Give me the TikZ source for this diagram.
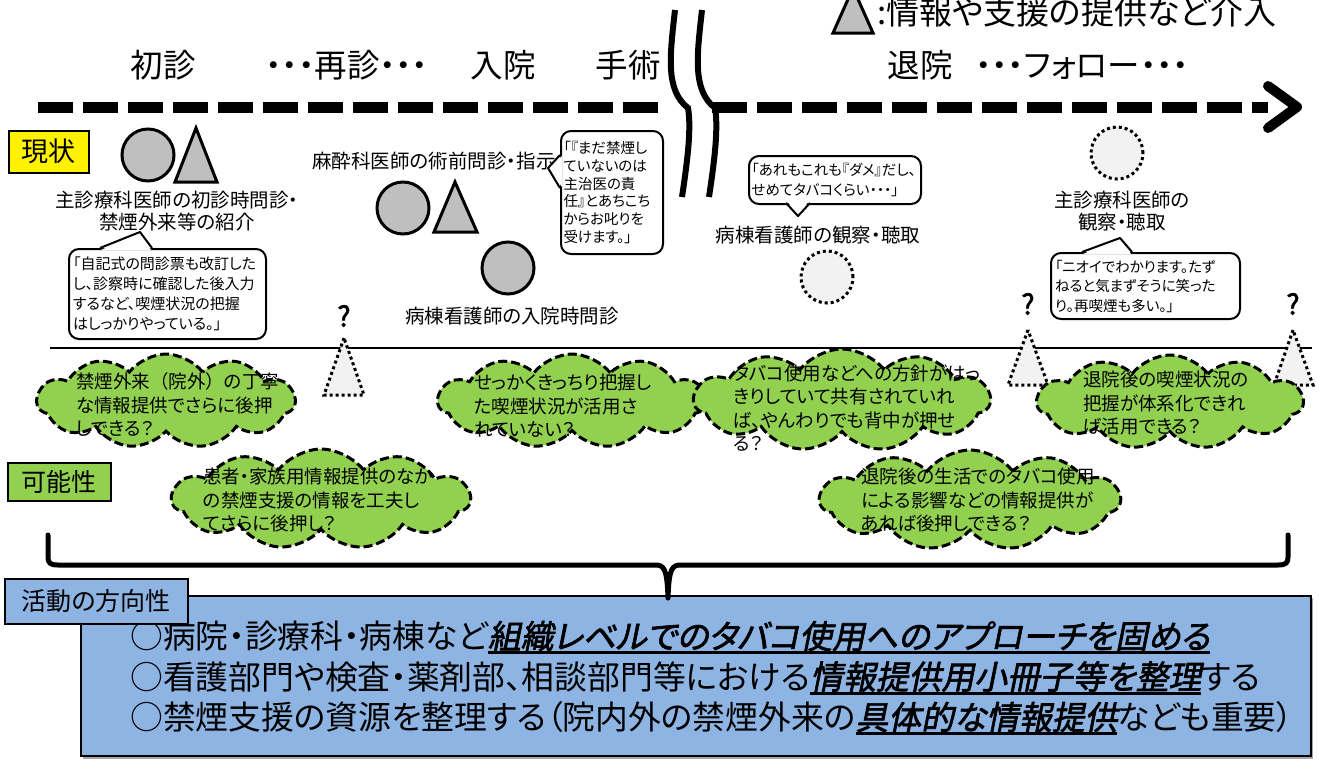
\documentclass[tikz,border=0pt]{standalone}
\usepackage{fontspec}
\setmainfont{Noto Sans CJK JP}[RawFeature={+palt}]
\newfontfamily\jpfull{Noto Sans CJK JP}
\newfontfamily\jpbold{Noto Sans CJK JP}[FakeBold=2]
\newfontfamily\jpem{Noto Sans CJK JP}[RawFeature={+palt}, FakeSlant=0.2, FakeBold=2]
\usetikzlibrary{shapes.symbols, calc}
\definecolor{shapegrey}{HTML}{BFBFBF}
\definecolor{lightg}{HTML}{F2F2F2}
\definecolor{cloudgreen}{HTML}{92D050}
\definecolor{boxblue}{HTML}{8DB4E2}
\newcommand\emul[1]{\setbox0=\hbox{\jpem #1}\rlap{\rule[-5.5pt]{\wd0}{2.6pt}}\box0}
\tikzset{
  tl/.style={font=\fontsize{32.5}{38}\selectfont, inner sep=0pt, anchor=base},
  lbl/.style={font=\fontsize{19.5}{22.5}\selectfont, align=center, inner sep=0pt},
  gcirc/.style={circle, draw, line width=3pt, fill=shapegrey, minimum size=52pt, inner sep=0pt},
  dcirc/.style={circle, draw, line width=3pt, dash pattern=on 3pt off 3pt, fill=lightg, minimum size=52pt, inner sep=0pt},
  gtri/.style={draw, line width=3pt, fill=shapegrey, line join=miter},
  dtri/.style={draw, line width=3pt, dash pattern=on 3pt off 3pt, fill=lightg},
  callbox/.style={draw, line width=2pt, fill=white, rounded corners=10pt, inner xsep=4pt, inner ysep=0pt, font=\fontsize{14.5}{19.5}\selectfont, align=left, anchor=north west},
  pointerfill/.style={fill=white},
  pointerline/.style={draw, line width=2pt, line join=round},
  cloudsh/.style={cloud, cloud puffs=11, cloud puff arc=105, cloud ignores aspect, draw, line width=3pt, dash pattern=on 9pt off 4pt, fill=cloudgreen, inner sep=0pt},
  cltext/.style={font=\fontsize{18.5}{23.5}\selectfont, align=left, anchor=west, inner sep=0pt},
  tag/.style={draw, line width=1.5pt, inner sep=0pt, font=\fontsize{25}{30}\selectfont, anchor=north west},
  qm/.style={font=\jpbold\fontsize{28}{30}\selectfont, inner sep=0pt},
  timeline/.style={line width=11pt, dash pattern=on 35pt off 10pt},
  breakline/.style={line width=6pt},
  bracestyle/.style={line width=5pt, line cap=round, line join=round}
}
\begin{document}
\begin{tikzpicture}[x=1pt, y=-1pt]
\useasboundingbox (0,0) rectangle (1319,758);
\clip (0,0) rectangle (1319,758);

% legend
\draw[gtri] (833,33) -- (873,33) -- (853,-12) -- cycle;
\node[font=\fontsize{33}{38}\selectfont, inner sep=0pt, anchor=base west] (legend) at (877,24) {:情報や支援の提供など介入};

% timeline labels
\node[tl] (p1) at (163,77) {初診};
\node[tl] (p2) at (347,77) {・・・再診・・・};
\node[tl] (p3) at (503,77) {入院};
\node[tl] (p4) at (628,77) {手術};
\node[tl] (p5) at (920,77) {退院};
\node[tl] (p6) at (1082,77) {・・・フォロー・・・};

% timeline arrow
\coordinate (ta) at (38,107);
\coordinate (tb) at (666,107);
\coordinate (tc) at (712,107);
\coordinate (td) at (1268,107);
\coordinate (tip) at (1297,107);
\draw[timeline] (ta) -- (tb);
\draw[timeline] (tc) -- (td);
\draw[line width=10pt, line cap=round, line join=round] (1268,86) -- (tip) -- (1268,128);

% break lines
\draw[breakline] (675,10) .. controls (670,55) and (665,90) .. (688,108) .. controls (692,130) and (686,170) .. (682,197);
\draw[breakline] (702,10) .. controls (697,55) and (692,90) .. (715,108) .. controls (719,130) and (713,170) .. (709,197);

% tags
\node[tag, fill=yellow, minimum width=80pt, minimum height=42pt, font=\fontsize{27}{30}\selectfont] (now) at (8,130) {現状};
\node[tag, fill=cloudgreen, minimum width=103pt, minimum height=38pt] (poss) at (7,462) {可能性};

% left group
\node[gcirc] (g1) at (148,155) {};
\draw[gtri] (175,182) -- (217,182) -- (196,128) -- cycle;
\node[lbl] (l1) at (177,211) {主診療科医師の初診時問診・\\禁煙外来等の紹介};
\node[callbox, minimum width=197pt, minimum height=90pt, text width=189pt, font=\fontsize{15}{20}\selectfont] (c1) at (68,248) {「自記式の問診票も改訂した\\し、診察時に確認した後入力\\するなど、喫煙状況の把握\\はしっかりやっている。」};
\fill[pointerfill] (101,250) -- (140,232) -- (151,250) -- cycle;
\draw[pointerline] (100,248) -- (140,232) -- (152,248);

% middle group
\node[lbl] (l2) at (434,161) {麻酔科医師の術前問診・指示};
\node[gcirc] (g2) at (403,208) {};
\draw[gtri] (434,232) -- (477,232) -- (455,182) -- cycle;
\node[gcirc] (g3) at (508,268) {};
\node[lbl] (l3) at (512,316) {病棟看護師の入院時問診};
\node[callbox, minimum width=102pt, minimum height=123pt, text width=97pt, inner xsep=2.5pt, font=\fontsize{14.5}{17.8}\selectfont] (c2) at (560,130) {「『まだ禁煙し\\ていないのは\\主治医の責\\任』とあちこち\\からお叱りを\\受けます。」};
\fill[pointerfill] (562,156) -- (548,168) -- (562,187) -- cycle;
\draw[pointerline] (560,155) -- (548,168) -- (560,188);

% right group
\node[callbox, minimum width=172pt, minimum height=48pt, text width=167pt, inner xsep=2.5pt] (c3) at (748,155) {「あれもこれも『ダメ』だし、\\せめてタバコくらい・・・」};
\fill[pointerfill] (787,201) -- (798,216) -- (809,201) -- cycle;
\draw[pointerline] (786,203) -- (798,216) -- (810,203);
\node[lbl] (l4) at (818,235) {病棟看護師の観察・聴取};
\node[dcirc] (d1) at (827,277) {};
\node[dcirc] (d2) at (1117,153) {};
\node[lbl] (l5) at (1122,211) {主診療科医師の\\観察・聴取};
\node[callbox, minimum width=188pt, minimum height=66pt, text width=181pt] (c4) at (1050,252) {「ニオイでわかります。たず\\ねると気まずそうに笑った\\り。再喫煙も多い。」};
\fill[pointerfill] (1083,254) -- (1120,238) -- (1131,254) -- cycle;
\draw[pointerline] (1082,252) -- (1120,238) -- (1132,252);

% divider
\coordinate (hl) at (50,348);
\coordinate (hr) at (1312,348);
\draw[line width=2pt] (hl) -- (hr);

% question marks and dotted triangles
\node[qm] (q1) at (344,316) {?};
\draw[dtri] (344,338) -- (324,395) -- (364,395) -- cycle;
\node[qm] (q2) at (1028,304) {?};
\draw[dtri] (1028,330) -- (1008,385) -- (1048,385) -- cycle;
\node[qm] (q3) at (1293,304) {?};
\draw[dtri] (1293,330) -- (1274,385) -- (1313,385) -- cycle;

% clouds
\node[cloudsh, minimum width=258pt, minimum height=94pt] (cl1) at (166,401) {};
\node[cltext] (t1) at (76,405) {禁煙外来{\jpfull （}院外{\jpfull ）}の丁寧\\な情報提供でさらに後押\\しできる？};
\node[cloudsh, minimum width=268pt, minimum height=94pt] (cl2) at (572,401) {};
\node[cltext] (t2) at (474,406) {せっかくきっちり把握し\\た喫煙状況が活用さ\\れていない？};
\node[cloudsh, minimum width=298pt, minimum height=100pt] (cl3) at (321,499) {};
\node[cltext] (t3) at (203,500) {患者・家族用情報提供のなか\\の禁煙支援の情報を工夫し\\てさらに後押し？};
\node[cloudsh, minimum width=296pt, minimum height=102pt] (cl4) at (842,400) {};
\node[cltext] (t4) at (733,408) {タバコ使用などへの方針がはっ\\きりしていて共有されていれ\\ば、やんわりでも背中が押せ\\る？};
\node[cloudsh, minimum width=266pt, minimum height=94pt] (cl5) at (1170,402) {};
\node[cltext] (t5) at (1083,403) {退院後の喫煙状況の\\把握が体系化できれ\\ば活用できる？};
\node[cloudsh, minimum width=300pt, minimum height=100pt] (cl6) at (970,500) {};
\node[cltext] (t6) at (861,500) {退院後の生活でのタバコ使用\\による影響などの情報提供が\\あれば後押しできる？};

% main box
\fill[gray!70] (83,598) rectangle (1313,760);
\node[draw, line width=1.5pt, fill=boxblue, minimum width=1230pt, minimum height=160pt, inner sep=0pt, anchor=north west] (mainbox) at (80,595) {};
\node[font=\fontsize{32.8}{40.5}\selectfont, align=left, anchor=west, inner sep=0pt] (maintext) at (130,678) {○病院・診療科・病棟など\emul{組織レベルでのタバコ使用へのアプローチを固める}\\○看護部門や検査・薬剤部、相談部門等における\emul{情報提供用小冊子等を整理}する\\○禁煙支援の資源を整理する（院内外の禁煙外来の\emul{具体的な情報提供}なども重要）};
\node[tag, fill=boxblue, minimum width=183pt, minimum height=45pt] (dir) at (4,578) {活動の方向性};

% brace
\coordinate (bl) at (48,535);
\coordinate (bt) at (668,598);
\coordinate (br) at (1288,535);
\draw[bracestyle] (bl) -- (48,557) .. controls (48,563) and (50,565) .. (58,565) -- (655,565) .. controls (664,565) and (667,568) .. (bt) .. controls (669,568) and (672,565) .. (681,565) -- (1278,565) .. controls (1286,565) and (1288,563) .. (1288,557) -- (br);
\end{tikzpicture}
\end{document}
